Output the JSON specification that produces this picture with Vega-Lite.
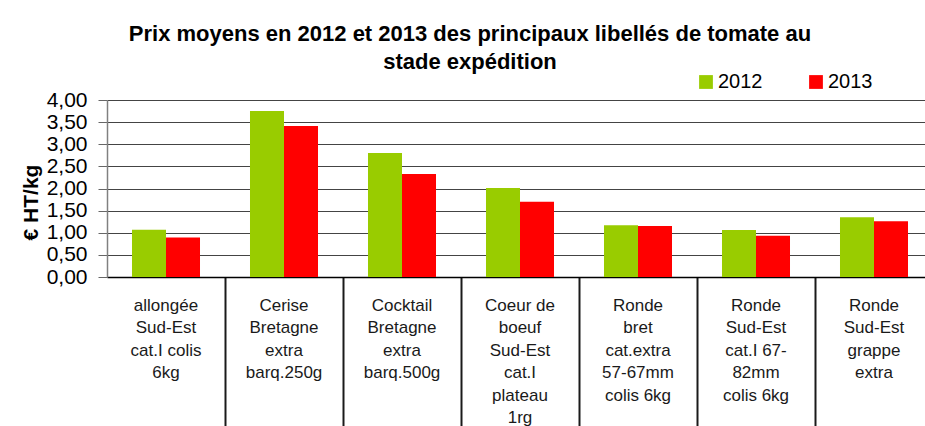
{
  "$schema": "https://vega.github.io/schema/vega-lite/v6.json",
  "width": 818,
  "height": 177,
  "autosize": "none",
  "padding": {"left": 107, "top": 100, "right": 0, "bottom": 149},
  "background": "white",
  "config": {
    "font": "Liberation Sans",
    "view": {"stroke": null}
  },
  "title": {
    "text": ["Prix moyens en 2012 et 2013 des principaux libellés de tomate au", "stade expédition"],
    "font": "Liberation Sans",
    "fontSize": 22,
    "fontWeight": "bold",
    "color": "#000000",
    "lineHeight": 28,
    "anchor": "middle",
    "frame": "group",
    "dx": -46,
    "offset": -2
  },
  "data": {
    "values": [
      {"produit": "allongée|Sud-Est|cat.I colis|6kg", "annee": "2012", "prix": 1.07},
      {"produit": "allongée|Sud-Est|cat.I colis|6kg", "annee": "2013", "prix": 0.89},
      {"produit": "Cerise|Bretagne|extra|barq.250g", "annee": "2012", "prix": 3.75},
      {"produit": "Cerise|Bretagne|extra|barq.250g", "annee": "2013", "prix": 3.41},
      {"produit": "Cocktail|Bretagne|extra|barq.500g", "annee": "2012", "prix": 2.80},
      {"produit": "Cocktail|Bretagne|extra|barq.500g", "annee": "2013", "prix": 2.33},
      {"produit": "Coeur de|boeuf|Sud-Est|cat.I|plateau|1rg", "annee": "2012", "prix": 2.01},
      {"produit": "Coeur de|boeuf|Sud-Est|cat.I|plateau|1rg", "annee": "2013", "prix": 1.70},
      {"produit": "Ronde|bret|cat.extra|57-67mm|colis 6kg", "annee": "2012", "prix": 1.17},
      {"produit": "Ronde|bret|cat.extra|57-67mm|colis 6kg", "annee": "2013", "prix": 1.15},
      {"produit": "Ronde|Sud-Est|cat.I 67-|82mm|colis 6kg", "annee": "2012", "prix": 1.06},
      {"produit": "Ronde|Sud-Est|cat.I 67-|82mm|colis 6kg", "annee": "2013", "prix": 0.93},
      {"produit": "Ronde|Sud-Est|grappe|extra", "annee": "2012", "prix": 1.35},
      {"produit": "Ronde|Sud-Est|grappe|extra", "annee": "2013", "prix": 1.26}
    ]
  },
  "mark": {"type": "bar"},
  "encoding": {
    "x": {
      "field": "produit",
      "type": "nominal",
      "sort": null,
      "scale": {"range": [0, 826], "paddingInner": 0, "paddingOuter": 0},
      "axis": {
        "title": null,
        "bandPosition": 0,
        "labelAngle": 0,
        "labelExpr": "split(datum.label, '|')",
        "labelFont": "Liberation Sans",
        "labelFontSize": 17,
        "labelColor": "#1a1a1a",
        "labelLineHeight": 22.5,
        "labelBaseline": "top",
        "labelPadding": -130,
        "labelOverlap": false,
        "labelBound": false,
        "tickSize": 150,
        "tickWidth": 2,
        "tickColor": {"condition": {"test": "datum.value === 'allongée|Sud-Est|cat.I colis|6kg'", "value": "transparent"}, "value": "#1a1a1a"},
        "domainColor": "#000000",
        "domainWidth": 1.5,
        "grid": false
      }
    },
    "xOffset": {
      "field": "annee",
      "type": "nominal",
      "scale": {"paddingInner": 0, "paddingOuter": 0.735}
    },
    "y": {
      "field": "prix",
      "type": "quantitative",
      "scale": {"domain": [0, 4]},
      "axis": {
        "title": "€ HT/kg",
        "titleFont": "Liberation Sans",
        "titleFontSize": 21,
        "titleFontWeight": "bold",
        "titleColor": "#000000",
        "titleX": -76,
        "titleY": 102,
        "titleAlign": "center",
        "titleBaseline": "middle",
        "titleAngle": -90,
        "values": [0, 0.5, 1, 1.5, 2, 2.5, 3, 3.5, 4],
        "labelExpr": "replace(format(datum.value, '.2f'), '.', ',')",
        "labelFont": "Liberation Sans",
        "labelFontSize": 21,
        "labelColor": "#000000",
        "labelPadding": 11,
        "tickSize": 9,
        "tickColor": "#666666",
        "domainColor": "#808080",
        "domainWidth": 1.5,
        "gridColor": "#444444",
        "gridWidth": 1.2
      }
    },
    "color": {
      "field": "annee",
      "type": "nominal",
      "scale": {"domain": ["2012", "2013"], "range": ["#99cc00", "#ff0000"]},
      "legend": {
        "title": null,
        "orient": "none",
        "direction": "horizontal",
        "legendX": 589,
        "legendY": -28,
        "padding": 0,
        "symbolType": "square",
        "symbolSize": 190,
        "symbolStrokeWidth": 0,
        "symbolOpacity": 1,
        "labelFont": "Liberation Sans",
        "labelFontSize": 20,
        "labelColor": "#000000",
        "labelOffset": 2,
        "columnPadding": 43
      }
    }
  }
}
